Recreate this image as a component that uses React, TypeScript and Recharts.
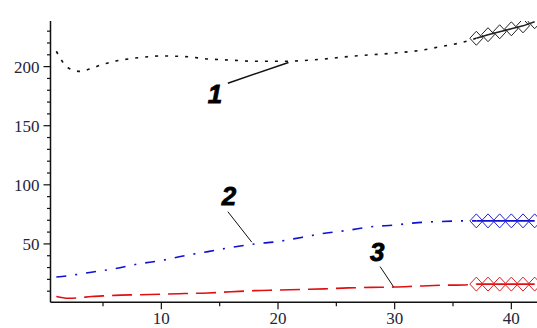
import { LineChart, Line, XAxis, YAxis, ReferenceLine, ReferenceDot } from 'recharts';

// sample positions along the x axis
const xs = [1, 2, 3, 4, 5, 6, 8, 10, 12, 14, 16, 18, 20, 22, 24, 26, 28, 30, 32, 34, 36, 37, 38, 39, 40, 41, 42];

// curve 1 (black, dotted)
const curve1 = [213, 199, 196, 198.5, 202, 204.5, 207.5, 209, 208.5, 206.5, 205.5, 204.5, 204.5, 205, 206.5, 208.5, 210, 211.5, 213.5, 217, 221, 224, 227, 229.5, 232, 234.5, 238];
// curve 2 (blue, dash-dot)
const curve2 = [22, 23, 24.5, 26, 27.5, 29, 33, 36, 40, 43.5, 47, 50, 52, 55.5, 59, 61.5, 64.5, 66, 68, 69, 69.5, 69.5, 69.5, 69.5, 69.5, 69.5, 69.5];
// curve 3 (red, dashed)
const curve3 = [5.5, 4, 4.5, 5.5, 6, 6.5, 7, 7.5, 8, 8.5, 9.5, 10.5, 11, 11.5, 12, 12.8, 13.2, 13.5, 14.3, 15, 15.3, 16, 16, 16, 16, 16, 16];

const markerFrom = 37;

const xTicks = [5, 10, 15, 20, 25, 30, 35, 40];
const yTicks = [10, 20, 30, 40, 50, 60, 70, 80, 90, 100, 110, 120, 130, 140, 150, 160, 170, 180, 190, 200, 210, 220, 230];

// curve labels: text, label position, leader line from / to
const labels = [
  { text: '1', at: [14.6, 176.5], from: [15.7, 186], to: [20.9, 203.5] },
  { text: '2', at: [15.8, 90.5], from: [15.7, 77.3], to: [17.75, 51.5] },
  { text: '3', at: [28.5, 42.8], from: [28.75, 30.8], to: [29.9, 13.8] },
];

const rows = xs.map((x, i) => ({
  x,
  a: x <= markerFrom ? curve1[i] : null,
  am: x >= markerFrom ? curve1[i] : null,
  b: x <= markerFrom ? curve2[i] : null,
  bm: x >= markerFrom ? curve2[i] : null,
  c: x <= markerFrom ? curve3[i] : null,
  cm: x >= markerFrom ? curve3[i] : null,
}));

const tickFont = { fontFamily: '"Liberation Serif", serif', fontSize: 17, fill: '#25253a' };

const XTick = (props: any) => {
  const { x, y, payload } = props;
  const major = payload.value % 10 === 0;
  return (
    <g>
      <line x1={x} x2={x} y1={y} y2={y + (major ? 7 : 4)} stroke="#111" strokeWidth={1.2} />
      {major && (
        <text x={x} y={y + 22} textAnchor="middle" {...tickFont}>
          {payload.value}
        </text>
      )}
    </g>
  );
};

const YTick = (props: any) => {
  const { x, y, payload } = props;
  const major = payload.value % 50 === 0;
  return (
    <g>
      <line x1={x} x2={x - (major ? 7 : 3.5)} y1={y} y2={y} stroke="#111" strokeWidth={1.2} />
      {major && (
        <text x={x - 11} y={y + 6} textAnchor="end" {...tickFont}>
          {payload.value}
        </text>
      )}
    </g>
  );
};

const diamond = (color: string) => (props: any) => {
  const { cx, cy, index } = props;
  if (cx == null || cy == null || props.value == null) return <g key={index} />;
  return (
    <path
      key={index}
      d={`M${cx - 6.5},${cy} L${cx},${cy - 7} L${cx + 6.5},${cy} L${cx},${cy + 7} Z`}
      fill="none"
      stroke={color}
      strokeWidth={1}
    />
  );
};

export default function App() {
  return (
    <div style={{ position: 'absolute', left: 0, top: 0, width: 537, height: 328, overflow: 'hidden', background: '#fff' }}>
      <LineChart width={537} height={328} data={rows} margin={{ top: 21, right: 0, bottom: 0, left: 0 }}>
        <XAxis
          dataKey="x"
          type="number"
          domain={[0.5, 42.2]}
          ticks={xTicks}
          interval={0}
          tick={<XTick />}
          tickSize={0}
          tickMargin={0}
          tickLine={false}
          height={25.7}
          axisLine={{ stroke: '#111', strokeWidth: 1.5 }}
          allowDataOverflow
        />
        <YAxis
          type="number"
          domain={[0.6, 238.6]}
          ticks={yTicks}
          interval={0}
          tick={<YTick />}
          tickSize={0}
          tickMargin={0}
          tickLine={false}
          width={50.5}
          axisLine={{ stroke: '#111', strokeWidth: 1.5 }}
          allowDataOverflow
        />
        <Line type="monotone" dataKey="a" stroke="#111" strokeWidth={1.6} strokeDasharray="3 7" dot={false} isAnimationActive={false} />
        <Line type="monotone" dataKey="b" stroke="#1010d0" strokeWidth={1.6} strokeDasharray="10 9 2 9" dot={false} isAnimationActive={false} />
        <Line type="monotone" dataKey="c" stroke="#e01010" strokeWidth={1.6} strokeDasharray="20 8" dot={false} isAnimationActive={false} />
        <Line type="linear" dataKey="am" stroke="#222" strokeWidth={1.5} dot={diamond('#222')} isAnimationActive={false} />
        <Line type="linear" dataKey="bm" stroke="#1010d0" strokeWidth={1.8} dot={diamond('#2020d0')} isAnimationActive={false} />
        <Line type="linear" dataKey="cm" stroke="#e01010" strokeWidth={1.8} dot={diamond('#e02020')} isAnimationActive={false} />
        {labels.map((l) => (
          <ReferenceLine
            key={'l' + l.text}
            segment={[{ x: l.from[0], y: l.from[1] }, { x: l.to[0], y: l.to[1] }]}
            stroke="#111"
            strokeWidth={l.text === '1' ? 1.5 : 1}
          />
        ))}
        {labels.map((l) => (
          <ReferenceDot
            key={'t' + l.text}
            x={l.at[0]}
            y={l.at[1]}
            r={0}
            shape={(p: any) => (
              <text
                x={p.cx}
                y={p.cy + 9}
                textAnchor="middle"
                fontFamily='"Liberation Sans", Arial, sans-serif'
                fontWeight="bold"
                fontStyle="italic"
                fontSize={26}
                fill="#000"
                stroke="#000"
                strokeWidth={0.8}
              >
                {l.text}
              </text>
            )}
          />
        ))}
      </LineChart>
    </div>
  );
}
